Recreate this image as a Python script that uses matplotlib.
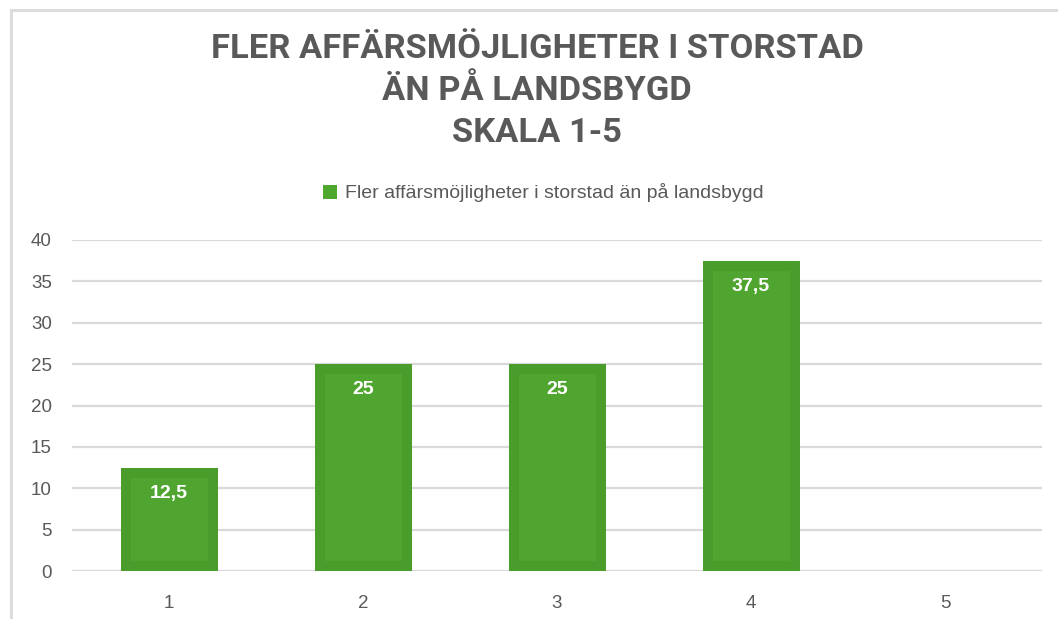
import numpy as np
import matplotlib.pyplot as plt
from matplotlib.lines import Line2D
from matplotlib.patches import Patch

# chart data
categories = ['1', '2', '3', '4', '5']
values = [12.5, 25, 25, 37.5, np.nan]
y_ticks = [0, 5, 10, 15, 20, 25, 30, 35, 40]
series_name = 'Fler affärsmöjligheter i storstad än på landsbygd'
title_lines = ['FLER AFFÄRSMÖJLIGHETER I STORSTAD', 'ÄN PÅ LANDSBYGD', 'SKALA 1-5']

text_gray = '#595959'
grid_gray = '#d9d9d9'
bar_face = '#4fa52f'
bar_edge = '#4a9c2b'

plt.rcParams['font.family'] = ['Liberation Sans', 'DejaVu Sans']

fig = plt.figure(figsize=(10.58, 6.19), dpi=100)
ax = fig.add_axes([72 / 1058, 1 - 571 / 619, (1042 - 72) / 1058, (571 - 240) / 619])

x = np.arange(len(categories))
bars = ax.bar(x, values, width=0.5, color=bar_face, edgecolor=bar_edge, linewidth=14.4, zorder=3)
# keep only the inner half of the edge so it looks like an inset border
for b in bars:
    b.set_clip_path(b)

for xi, v in zip(x, values):
    if np.isnan(v):
        continue
    lbl = f'{v:g}'.replace('.', ',')
    ax.annotate(lbl, (xi, v), xytext=(0, -18.5), textcoords='offset points',
                ha='center', va='center', color='white', fontsize=14,
                fontweight='bold', zorder=4)

ax.set_xlim(-0.5, len(categories) - 0.5)
ax.set_ylim(0, 40)
ax.set_yticks(y_ticks)
ax.set_xticks(x)
ax.set_xticklabels(categories)
ax.yaxis.grid(True, color=grid_gray, linewidth=1.6, zorder=0)
ax.set_axisbelow(True)
for s in ax.spines.values():
    s.set_visible(False)
ax.tick_params(axis='both', length=0, labelsize=13.5, labelcolor=text_gray)
ax.tick_params(axis='y', pad=14.5)
ax.tick_params(axis='x', pad=17)

# title
fig.text(537 / 1058, 1 - 91 / 619, '\n'.join(title_lines), ha='center', va='center',
         fontsize=24.8, fontweight='bold', color=text_gray, family=['Roboto', 'DejaVu Sans'],
         linespacing=1.4)

# legend
handle = Patch(facecolor='#4ea72e', edgecolor='none')
fig.legend([handle], [series_name], loc='center', bbox_to_anchor=(543 / 1058, 1 - 193 / 619),
           frameon=False, fontsize=14, labelcolor=text_gray, handlelength=0.75,
           handleheight=0.75, handletextpad=0.4)

# outer chart border (top and left visible)
fig.add_artist(Line2D([11 / 1058, 11 / 1058], [0, 1 - 10 / 619], color='#dcdcdc', lw=2.2))
fig.add_artist(Line2D([11 / 1058, 1], [1 - 10 / 619, 1 - 10 / 619], color='#dcdcdc', lw=2.2))

fig.savefig('out.png', dpi=100)
